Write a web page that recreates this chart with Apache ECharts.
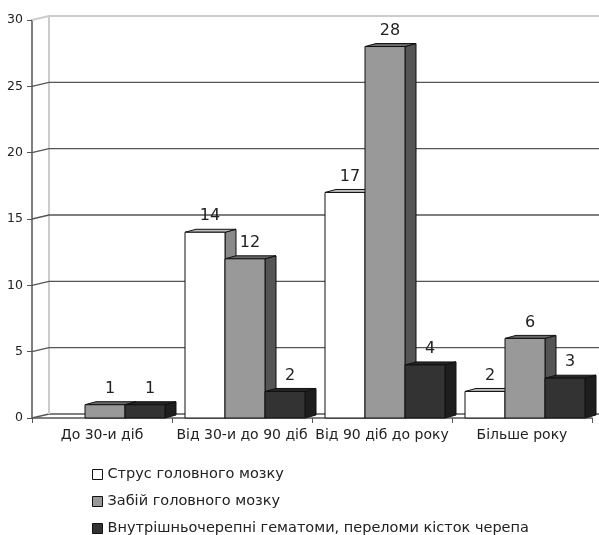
<!DOCTYPE html>
<html>
<head>
<meta charset="utf-8">
<script src="https://cdn.jsdelivr.net/npm/echarts@6/dist/echarts.min.js"></script>
<style>
  html, body { margin: 0; padding: 0; background: #fff; }
  #chart { width: 599px; height: 535px; }
</style>
</head>
<body>
<div id="chart"></div>
<script>
// Periods after injury
const categories = ['До 30-и діб', 'Від 30-и до 90 діб', 'Від 90 діб до року', 'Більше року'];

// Number of patients per diagnosis
const seriesNames = [
  'Струс головного мозку',
  'Забій головного мозку',
  'Внутрішньочерепні гематоми, переломи кісток черепа'
];
const concussion = [0, 14, 17, 2];
const contusion = [1, 12, 28, 6];
const hematomas = [1, 2, 4, 3];

// Value axis ticks
const yTicks = [0, 5, 10, 15, 20, 25, 30];

const FONT = 'DejaVu Sans';
const DEPTH_X = 11, DEPTH_Y = 3;          // bar depth
const WALL_X = 17, WALL_Y = 4;            // back wall offset

const palette = [
  { front: '#ffffff', side: '#8a8a8a', top: '#bdbdbd' },
  { front: '#999999', side: '#555555', top: '#6a6a6a' },
  { front: '#333333', side: '#1e1e1e', top: '#262626' }
];

function barRenderer(sIdx) {
  return function (params, api) {
    const cat = api.value(0);
    const v = api.value(1);
    const base = api.coord([cat, 0]);
    const top = api.coord([cat, v]);
    const catW = api.size([1, 0])[0];
    const barW = catW * 40 / 140;
    const shift = catW * 3 / 140;
    const x0 = base[0] - 1.5 * barW + shift + sIdx * barW;
    const x1 = x0 + barW;
    const yb = base[1];
    const yt = top[1];
    const c = palette[sIdx];
    const stroke = { stroke: '#111', lineWidth: 1 };
    const children = [];
    if (v > 0) {
      children.push({
        type: 'polygon',
        shape: { points: [[x1, yb], [x1 + DEPTH_X, yb - DEPTH_Y], [x1 + DEPTH_X, yt - DEPTH_Y], [x1, yt]] },
        style: Object.assign({ fill: c.side }, stroke)
      });
      children.push({
        type: 'polygon',
        shape: { points: [[x0, yt], [x0 + DEPTH_X, yt - DEPTH_Y], [x1 + DEPTH_X, yt - DEPTH_Y], [x1, yt]] },
        style: Object.assign({ fill: c.top }, stroke)
      });
      children.push({
        type: 'rect',
        shape: { x: x0, y: yt, width: barW, height: yb - yt },
        style: Object.assign({ fill: c.front }, stroke)
      });
      children.push({
        type: 'text',
        x: x0 + barW / 2 + 5,
        y: yt - 16,
        style: {
          text: String(v),
          fontFamily: FONT,
          fontSize: 16,
          fill: '#222',
          align: 'center',
          verticalAlign: 'middle'
        }
      });
    }
    return { type: 'group', children: children };
  };
}

function wallRenderer(params, api) {
  const t = api.value(1);
  const p = api.coord([0, t]);
  const cs = params.coordSys;
  const x = cs.x;
  const y = p[1];
  const isTop = t === yTicks[yTicks.length - 1];
  const color = isTop ? '#cccccc' : '#555555';
  const children = [{
    type: 'polyline',
    shape: { points: [[x, y], [x + WALL_X, y - WALL_Y], [cs.x + cs.width + 12, y - WALL_Y]] },
    style: { stroke: color, lineWidth: isTop ? 2 : 1.3, fill: null }
  }];
  if (t === 0) {
    const yTop = api.coord([0, yTicks[yTicks.length - 1]])[1];
    children.push({
      type: 'line',
      shape: { x1: x + WALL_X, y1: y - WALL_Y, x2: x + WALL_X, y2: yTop - WALL_Y },
      style: { stroke: '#cccccc', lineWidth: 2 }
    });
  }
  return { type: 'group', children: children };
}

function toPairs(arr) {
  return arr.map(function (v, i) { return [i, v]; });
}

const chart = echarts.init(document.getElementById('chart'), null, { renderer: 'canvas' });

const seriesData = [concussion, contusion, hematomas];

chart.setOption({
  animation: false,
  backgroundColor: '#ffffff',
  textStyle: { fontFamily: FONT },
  grid: { left: 32, right: 7, top: 20, bottom: 117 },
  legend: {
    orient: 'vertical',
    left: 92,
    top: 467,
    height: 100,
    padding: 0,
    itemWidth: 10,
    itemHeight: 10,
    itemGap: 12,
    selectedMode: false,
    textStyle: { fontFamily: FONT, fontSize: 14.5, color: '#222' },
    data: seriesNames.map(function (n, i) {
      return {
        name: n,
        icon: 'rect',
        itemStyle: { color: palette[i].front, borderColor: '#111', borderWidth: 1 }
      };
    })
  },
  xAxis: {
    type: 'category',
    data: categories,
    boundaryGap: true,
    axisLine: { lineStyle: { color: '#555', width: 1.5 } },
    axisTick: { show: true, length: 5, alignWithLabel: false, interval: 0, lineStyle: { color: '#555' } },
    axisLabel: { interval: 0, fontFamily: FONT, fontSize: 14, color: '#222', margin: 10 },
    splitLine: { show: false }
  },
  yAxis: {
    type: 'value',
    min: 0,
    max: 30,
    interval: 5,
    axisLine: { show: true, lineStyle: { color: '#555', width: 1.5 } },
    axisTick: { show: true, length: 5, lineStyle: { color: '#555' } },
    axisLabel: { fontFamily: FONT, fontSize: 12.5, color: '#222', margin: 9 },
    splitLine: { show: false }
  },
  series: [
    {
      type: 'custom',
      name: 'wall',
      renderItem: wallRenderer,
      data: yTicks.map(function (t) { return [0, t]; }),
      z: 1,
      silent: true,
      clip: false
    }
  ].concat(seriesData.map(function (arr, i) {
    return {
      type: 'custom',
      name: seriesNames[i],
      renderItem: barRenderer(i),
      data: toPairs(arr),
      z: 3 + i,
      clip: false,
      itemStyle: { color: palette[i].front }
    };
  }))
});
</script>
</body>
</html>
